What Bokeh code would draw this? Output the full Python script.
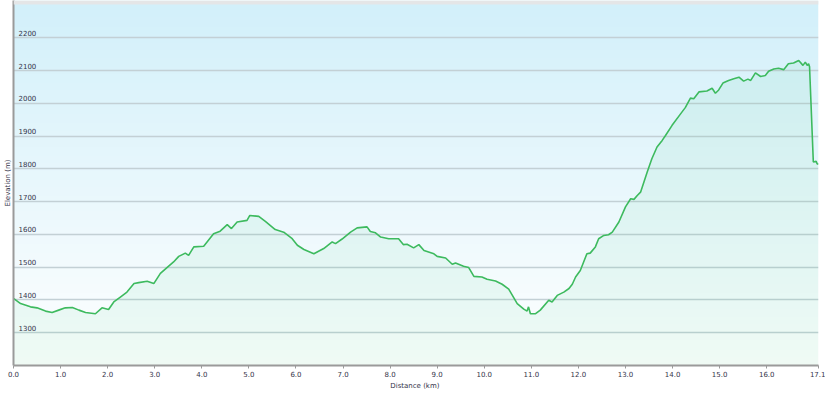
import numpy as np
from bokeh.plotting import figure
from bokeh.models import (Range1d, FixedTicker, PrintfTickFormatter, BoxAnnotation,
                          ColumnDataSource)
from bokeh.core.properties import value
from bokeh.embed import file_html
from bokeh.resources import INLINE

# ---- data ----
distance_km = [0.00, 0.15, 0.36, 0.50, 0.68, 0.82, 0.96, 1.10, 1.25, 1.39, 1.53, 1.74, 1.88,
               2.02, 2.13, 2.27, 2.41, 2.56, 2.66, 2.84, 2.98, 3.12, 3.26, 3.40, 3.51, 3.65,
               3.72, 3.83, 4.04, 4.25, 4.39, 4.54, 4.63, 4.75, 4.96, 5.02, 5.21, 5.35, 5.56,
               5.74, 5.92, 6.03, 6.17, 6.38, 6.59, 6.77, 6.84, 6.98, 7.16, 7.30, 7.51, 7.58,
               7.69, 7.80, 7.97, 8.18, 8.28, 8.36, 8.50, 8.61, 8.72, 8.93, 9.00, 9.18, 9.32,
               9.39, 9.56, 9.67, 9.78, 9.95, 10.06, 10.24, 10.38, 10.52, 10.70, 10.84, 10.91,
               10.94, 10.98, 11.09, 11.19, 11.37, 11.44, 11.55, 11.69, 11.80, 11.87, 11.94,
               12.04, 12.18, 12.25, 12.36, 12.43, 12.54, 12.64, 12.72, 12.86, 13.00, 13.11,
               13.18, 13.25, 13.32, 13.46, 13.56, 13.67, 13.78, 13.85, 13.99, 14.17, 14.27,
               14.38, 14.45, 14.56, 14.73, 14.84, 14.91, 14.98, 15.07, 15.19, 15.30, 15.41,
               15.51, 15.60, 15.66, 15.76, 15.87, 15.97, 16.04, 16.15, 16.25, 16.36, 16.46,
               16.57, 16.68, 16.77, 16.82, 16.86, 16.89, 16.91, 16.99, 17.05, 17.07, 17.10]
elevation_m = [1405, 1389, 1379, 1376, 1366, 1362, 1369, 1376, 1377, 1369, 1362, 1358, 1376,
               1371, 1394, 1409, 1424, 1450, 1453, 1457, 1450, 1481, 1499, 1516, 1533, 1543,
               1536, 1562, 1564, 1602, 1610, 1630, 1618, 1638, 1643, 1658, 1655, 1640, 1615,
               1607, 1587, 1567, 1554, 1541, 1557, 1577, 1572, 1586, 1607, 1620, 1623, 1609,
               1605, 1592, 1587, 1587, 1569, 1570, 1559, 1569, 1551, 1541, 1533, 1528, 1509,
               1513, 1503, 1499, 1472, 1470, 1463, 1458, 1448, 1433, 1389, 1372, 1366,
               1379, 1358, 1358, 1369, 1399, 1394, 1414, 1424, 1435, 1448, 1470,
               1490, 1541, 1543, 1562, 1587, 1597, 1599, 1607, 1638, 1684, 1709,
               1707, 1719, 1729, 1790, 1831, 1867, 1887, 1902, 1933, 1968, 1987,
               2016, 2014, 2035, 2038, 2046, 2031, 2041, 2062, 2070, 2075, 2080,
               2068, 2074, 2070, 2093, 2082, 2085, 2098, 2105, 2107, 2103, 2121,
               2123, 2131, 2116, 2126, 2116, 2121, 2112, 1821, 1823, 1816, 1814]
y_ticks = [1300, 1400, 1500, 1600, 1700, 1800, 1900, 2000, 2100, 2200]
x_ticks = [0, 1, 2, 3, 4, 5, 6, 7, 8, 9, 10, 11, 12, 13, 14, 15, 16, 17.1]
y_tick_labels = [str(v) for v in y_ticks]

X_MAX = 17.1
Y_MIN, Y_MAX = 1200, 2314

FONT = "DejaVu Sans"
TXT = "#34344a"

p = figure(width=825, height=394, output_backend="svg", toolbar_location=None,
           x_range=Range1d(0, X_MAX), y_range=Range1d(Y_MIN, Y_MAX),
           min_border_left=13, min_border_right=7, min_border_top=0, min_border_bottom=29)
p.outline_line_color = None
p.background_fill_color = "white"
p.border_fill_color = "white"

# background vertical gradient (light blue at top -> white at bottom)
n = 200
top = np.array([210, 240, 250])
bot = np.array([255, 255, 255])
img = np.zeros((n, 1), dtype=np.uint32)
view = img.view(dtype=np.uint8).reshape((n, 1, 4))
for i in range(n):
    c = bot + (top - bot) * (i / (n - 1))
    view[i, 0, 0] = int(c[0]); view[i, 0, 1] = int(c[1]); view[i, 0, 2] = int(c[2]); view[i, 0, 3] = 255
p.image_rgba(image=[img], x=0, y=Y_MIN, dw=X_MAX, dh=Y_MAX - Y_MIN, level="image")

# top gray band
p.add_layout(BoxAnnotation(bottom=2301.5, fill_color="#e4e6e7", fill_alpha=1.0, line_color=None))

src = ColumnDataSource(dict(x=distance_km, y=elevation_m))
p.varea(x="x", y1=Y_MIN, y2="y", source=src, fill_color="#3ccf7d", fill_alpha=0.075)
p.line(x="x", y="y", source=src, line_color="#3dba5e", line_width=1.6)

# grid
p.xgrid.visible = False
p.ygrid.ticker = FixedTicker(ticks=y_ticks)
p.ygrid.grid_line_color = "#c3d0d5"
p.ygrid.grid_line_width = 1.3

# y tick labels inside the plot
p.text(x=[0] * len(y_ticks), y=y_ticks, text=y_tick_labels, x_offset=5, y_offset=-2,
       text_baseline="bottom", text_align="left", text_font=value(FONT),
       text_font_size="7px", text_color=TXT)

# axes
p.yaxis.ticker = FixedTicker(ticks=[])
p.yaxis.major_label_standoff = 0
p.yaxis.major_tick_in = 0
p.yaxis.major_tick_out = 0
p.yaxis.minor_tick_line_color = None
p.yaxis.axis_label = "Elevation (m)"
p.yaxis.axis_label_standoff = 2
p.yaxis.axis_label_text_font = FONT
p.yaxis.axis_label_text_font_size = "7px"
p.yaxis.axis_label_text_font_style = "normal"
p.yaxis.axis_label_text_color = TXT
p.yaxis.axis_line_color = "#9a9a9a"
p.yaxis.axis_line_width = 2

p.xaxis.ticker = FixedTicker(ticks=x_ticks)
p.xaxis.formatter = PrintfTickFormatter(format="%.1f")
p.xaxis.major_label_text_font = FONT
p.xaxis.major_label_text_font_size = "7px"
p.xaxis.major_label_text_color = TXT
p.xaxis.major_label_standoff = 2
p.xaxis.major_tick_in = 0
p.xaxis.major_tick_out = 3
p.xaxis.major_tick_line_color = "#9a9a9a"
p.xaxis.minor_tick_line_color = None
p.xaxis.axis_label = "Distance  (km)"
p.xaxis.axis_label_standoff = 2
p.xaxis.axis_label_text_font = FONT
p.xaxis.axis_label_text_font_size = "7px"
p.xaxis.axis_label_text_font_style = "normal"
p.xaxis.axis_label_text_color = TXT
p.xaxis.axis_line_color = "#9a9a9a"
p.xaxis.axis_line_width = 2

open("out.html", "w").write(file_html(p, INLINE))
